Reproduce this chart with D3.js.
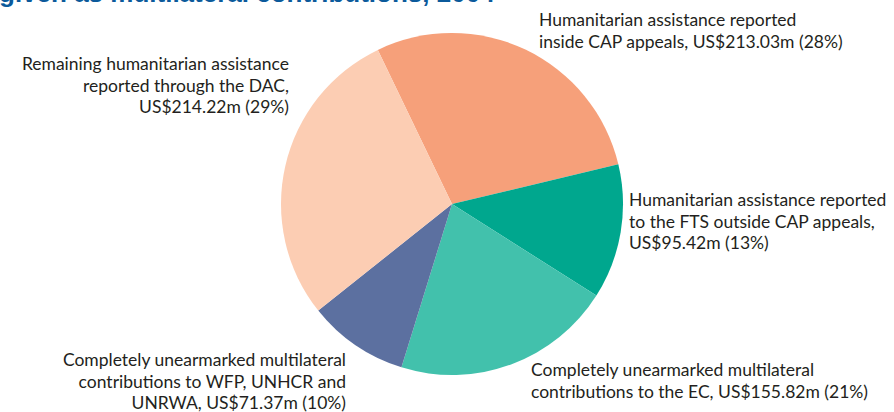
<!DOCTYPE html>
<html>
<head>
<meta charset="utf-8">
<script src="https://cdn.jsdelivr.net/npm/d3@7"></script>
<style>
  html, body { margin: 0; padding: 0; background: #fff; }
  svg { display: block; }
</style>
</head>
<body>
<div id="chart"></div>
<script>
const categories = [
  "Humanitarian assistance reported inside CAP appeals",
  "Humanitarian assistance reported to the FTS outside CAP appeals",
  "Completely unearmarked multilateral contributions to the EC",
  "Completely unearmarked multilateral contributions to WFP, UNHCR and UNRWA",
  "Remaining humanitarian assistance reported through the DAC"
];
const values = [213.03, 95.42, 155.82, 71.37, 214.22];
const percents = [28, 13, 21, 10, 29];
const colors = ["#f6a07a", "#00a78e", "#42c1ac", "#5c70a0", "#fccdb3"];
const labelLines = [
  ["Humanitarian assistance reported", "inside CAP appeals, US$213.03m (28%)"],
  ["Humanitarian assistance reported", "to the FTS outside CAP appeals,", "US$95.42m (13%)"],
  ["Completely unearmarked multilateral", "contributions to the EC, US$155.82m (21%)"],
  ["Completely unearmarked multilateral", "contributions to WFP, UNHCR and", "UNRWA, US$71.37m (10%)"],
  ["Remaining humanitarian assistance", "reported through the DAC,", "US$214.22m (29%)"]
];
const title = "given as multilateral contributions, 2004";

const W = 894, H = 412;
const cx = 452, cy = 204, R = 171;
const start = -25.7 * Math.PI / 180;

const svg = d3.select("#chart").append("svg").attr("width", W).attr("height", H);

svg.append("text")
  .attr("x", -1).attr("y", 2)
  .attr("font-family", "Liberation Sans, Arial, sans-serif")
  .attr("font-weight", "bold")
  .attr("font-size", 26)
  .attr("fill", "#0b5a9b")
  .text(title);

const pie = d3.pie().sort(null).value(d => d).startAngle(start).endAngle(start + 2 * Math.PI);
const arc = d3.arc().innerRadius(0).outerRadius(R);

const g = svg.append("g").attr("transform", `translate(${cx},${cy})`);
g.selectAll("path").data(pie(values)).join("path")
  .attr("d", arc)
  .attr("fill", (d, i) => colors[i]);

// label anchors: [x, firstBaseline, anchor]
const labelPos = [
  [539, 26, "start"],
  [629, 206, "start"],
  [531, 376, "start"],
  [346, 366, "end"],
  [289, 70, "end"]
];
const lineH = 21.5;
const lbl = svg.append("g")
  .attr("font-family", "Lato, 'Noto Sans', sans-serif")
  .attr("font-size", 17.5)
  .attr("fill", "#231f20");
labelLines.forEach((lines, i) => {
  const [x, y, anchor] = labelPos[i];
  const t = lbl.append("text").attr("text-anchor", anchor);
  lines.forEach((ln, j) => {
    t.append("tspan").attr("x", x).attr("y", y + j * lineH).text(ln);
  });
});
</script>
</body>
</html>
